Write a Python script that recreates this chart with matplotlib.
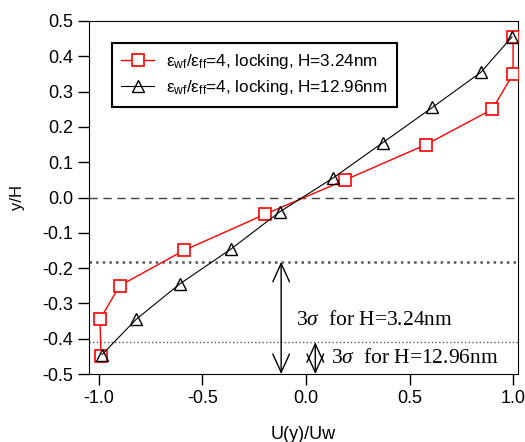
import matplotlib
matplotlib.use('Agg')
import matplotlib.pyplot as plt

plt.rcParams['font.family'] = ['Liberation Sans', 'DejaVu Sans']
plt.rcParams['axes.unicode_minus'] = False
plt.rcParams['mathtext.fontset'] = 'custom'
plt.rcParams['mathtext.rm'] = 'Liberation Sans'
plt.rcParams['mathtext.it'] = 'Liberation Serif:italic'

# H=3.24nm (red squares)
u_small = [-0.99, -0.995, -0.90, -0.59, -0.20, 0.19, 0.58, 0.90, 1.0, 1.0]
y_small = [-0.45, -0.345, -0.25, -0.15, -0.048, 0.05, 0.15, 0.25, 0.35, 0.455]

# H=12.96nm (black triangles)
u_large = [-0.985, -0.82, -0.61, -0.36, -0.125, 0.13, 0.37, 0.61, 0.845, 0.995]
y_large = [-0.445, -0.345, -0.245, -0.145, -0.04, 0.055, 0.155, 0.255, 0.355, 0.455]

# 3 sigma levels
sigma_small = -0.182
sigma_large = -0.41
arrow_x_small = -0.12
arrow_x_large = 0.045

xticks = [-1.0, -0.5, 0.0, 0.5, 1.0]
yticks = [0.5, 0.4, 0.3, 0.2, 0.1, 0.0, -0.1, -0.2, -0.3, -0.4, -0.5]

fig = plt.figure(figsize=(5.25, 4.42), dpi=100)
ax = fig.add_axes([0.1695, 0.1538, 0.8172, 0.7987])

ax.axhline(0.0, color='#404040', lw=1.0, ls=(0, (6, 4)), zorder=1)
ax.axhline(sigma_small, color='#555555', lw=1.8, ls=':', zorder=1)
ax.axhline(sigma_large, color='#555555', lw=1.0, ls=':', zorder=1)

ax.plot(u_small, y_small, color='red', lw=1.0, marker='s', ms=9,
        mfc='white', mec='red', mew=1.2,
        label=r'ε$_{\rm wf}$/ε$_{\rm ff}$=4, locking, H=3.24nm', zorder=3)
ax.plot(u_large, y_large, color='black', lw=0.8, marker='^', ms=9,
        mfc='none', mec='black', mew=1.0,
        label=r'ε$_{\rm wf}$/ε$_{\rm ff}$=4, locking, H=12.96nm', zorder=4)

arrow = dict(arrowstyle='<->, head_length=1.1, head_width=0.5',
             color='black', lw=1.0, shrinkA=0, shrinkB=0, mutation_scale=12)
ax.annotate('', xy=(arrow_x_small, -0.5), xytext=(arrow_x_small, sigma_small),
            arrowprops=arrow)
ax.annotate('', xy=(arrow_x_large, -0.5), xytext=(arrow_x_large, sigma_large),
            arrowprops=arrow)

ax.text(-0.05, -0.348, r'3$\sigma$  for H=3.24nm', family='Liberation Serif',
        fontsize=15.5, va='center', ha='left')
ax.text(0.12, -0.455, r'3$\sigma$  for H=12.96nm', family='Liberation Serif',
        fontsize=15.5, va='center', ha='left')

ax.set_xlim(-1.048, 1.024)
ax.set_ylim(-0.5, 0.5)
ax.set_xticks(xticks)
ax.set_xticklabels(['%.1f' % v for v in xticks])
ax.set_yticks(yticks)
ax.set_yticklabels(['%.1f' % v for v in yticks])
ax.tick_params(direction='out', length=8, width=1, labelsize=13, colors='black')
ax.set_xlabel('U(y)/Uw', fontsize=13, labelpad=14)
ax.set_ylabel('y/H', fontsize=12, labelpad=12)

leg = ax.legend(loc='upper left', bbox_to_anchor=(0.0536, 0.9377), fontsize=12.3,
                frameon=True, fancybox=False, framealpha=1, edgecolor='black',
                handlelength=1.9, handletextpad=0.7, borderpad=0.55,
                labelspacing=0.4, borderaxespad=0)
leg.get_frame().set_linewidth(1.5)

fig.savefig('out.png', dpi=100)
